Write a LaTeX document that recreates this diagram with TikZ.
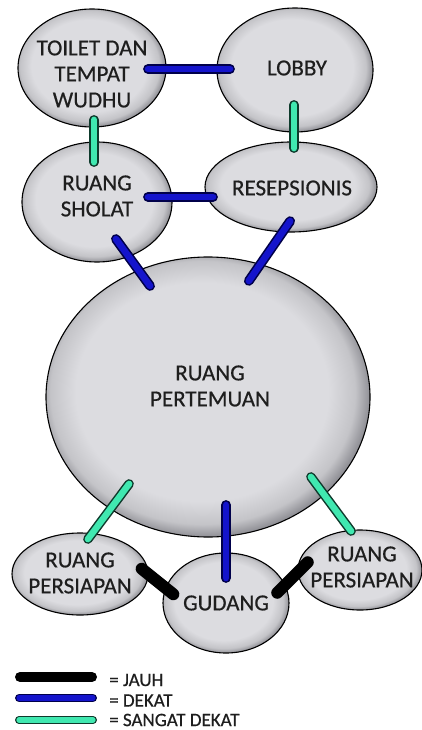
\documentclass[tikz,border=0pt]{standalone}
\usepackage{fontspec}
\setmainfont[FakeBold=0.5]{Carlito}
\newfontfamily\labelfont[FakeBold=0.5]{Carlito}
\usetikzlibrary{shapes.geometric}
\definecolor{nlight}{HTML}{DCDCE0}
\definecolor{nmid}{HTML}{C4C4C8}
\definecolor{ndark}{HTML}{8E8E94}
\definecolor{txt}{HTML}{1E1E1E}
\definecolor{bluefill}{HTML}{1414CC}
\definecolor{bluedark}{HTML}{00004A}
\definecolor{greenfill}{HTML}{40E8B0}
\definecolor{greendark}{HTML}{0E3A2C}
\pgfdeclareradialshading{bevel}{\pgfpoint{-1.5bp}{1.5bp}}{color(0bp)=(nlight); color(19.5bp)=(nlight); color(23.5bp)=(nmid); color(25.8bp)=(ndark); color(50bp)=(ndark)}
\tikzset{
  room/.style={ellipse, draw=black, line width=1.1pt, shading=bevel, inner sep=0pt},
  lbl/.style={font=\labelfont\fontsize{23}{26}\selectfont, text=txt, align=center, inner sep=0pt},
  legtext/.style={font=\labelfont\fontsize{19}{21}\selectfont, text=txt, anchor=west, inner sep=0pt},
  jauh/.style={draw=black, line width=12pt, line cap=round, shorten <=6pt, shorten >=6pt},
  dekat/.style={draw=bluedark, line width=1.6pt, double=bluefill, double distance=6.6pt, line cap=round, shorten <=5pt, shorten >=5pt},
  sdekat/.style={draw=greendark, line width=1.5pt, double=greenfill, double distance=6.4pt, line cap=round, shorten <=4.8pt, shorten >=4.8pt},
  legj/.style={draw=black, line width=10pt, line cap=round, shorten <=5pt, shorten >=5pt},
  legd/.style={draw=bluedark, line width=1.4pt, double=bluefill, double distance=5.6pt, line cap=round, shorten <=4.2pt, shorten >=4.2pt},
  legs/.style={draw=greendark, line width=1.4pt, double=greenfill, double distance=5.2pt, line cap=round, shorten <=4pt, shorten >=4pt},
}
\begin{document}
\begin{tikzpicture}[x=1pt,y=-1pt]
\useasboundingbox (0,0) rectangle (422,730);
\fill[white] (0,0) rectangle (422,730);

% rooms
\node[room, minimum width=148pt, minimum height=118pt] (toilet) at (92,68) {};
\node[room, minimum width=156pt, minimum height=124pt] (lobby) at (295,70) {};
\node[room, minimum width=150pt, minimum height=120pt] (sholat) at (97,202) {};
\node[room, minimum width=172pt, minimum height=90pt] (resep) at (291,187) {};
\node[room, minimum width=324pt, minimum height=280pt] (big) at (208,397) {};
\node[room, minimum width=136pt, minimum height=82pt] (leftp) at (80,574) {};
\node[room, minimum width=126pt, minimum height=100pt] (gudang) at (226,603) {};
\node[room, minimum width=124pt, minimum height=80pt] (rightp) at (360,570) {};

% labels
\node[lbl] (toilett) at (92,74) {TOILET DAN\\TEMPAT\\WUDHU};
\node[lbl] (lobbyt) at (297,68) {LOBBY};
\node[lbl] (sholatt) at (97,196) {RUANG\\SHOLAT};
\node[lbl] (resept) at (292,188) {RESEPSIONIS};
\node[lbl] (bigt) at (210,386) {RUANG\\PERTEMUAN};
\node[lbl] (leftpt) at (80,573) {RUANG\\PERSIAPAN};
\node[lbl] (gudangt) at (226,603) {GUDANG};
\node[lbl] (rightpt) at (362,567) {RUANG\\PERSIAPAN};

% connector end points
\coordinate (tl1) at (143,69);  \coordinate (tl2) at (235,69);
\coordinate (ts1) at (94,115);  \coordinate (ts2) at (94,167);
\coordinate (lr1) at (294,100); \coordinate (lr2) at (294,153);
\coordinate (sr1) at (143,197); \coordinate (sr2) at (218,197);
\coordinate (sb1) at (113,235); \coordinate (sb2) at (153,290);
\coordinate (rb1) at (293,217); \coordinate (rb2) at (246,285);
\coordinate (bl1) at (132,480); \coordinate (bl2) at (85,543);
\coordinate (bg1) at (226,500); \coordinate (bg2) at (226,583);
\coordinate (br1) at (308,473); \coordinate (br2) at (354,535);
\coordinate (lg1) at (137,565); \coordinate (lg2) at (178,598);
\coordinate (gr1) at (273,597); \coordinate (gr2) at (312,558);

% connectors
\draw[dekat] (tl1) -- (tl2);
\draw[sdekat] (ts1) -- (ts2);
\draw[sdekat] (lr1) -- (lr2);
\draw[dekat] (sr1) -- (sr2);
\draw[dekat] (sb1) -- (sb2);
\draw[dekat] (rb1) -- (rb2);
\draw[sdekat] (bl1) -- (bl2);
\draw[dekat] (bg1) -- (bg2);
\draw[sdekat] (br1) -- (br2);
\draw[jauh] (lg1) -- (lg2);
\draw[jauh] (gr1) -- (gr2);

% legend
\coordinate (lj1) at (15,677); \coordinate (lj2) at (97,677);
\coordinate (ld1) at (15,698); \coordinate (ld2) at (97,698);
\coordinate (ls1) at (15,720); \coordinate (ls2) at (97,720);
\draw[legj] (lj1) -- (lj2);
\draw[legd] (ld1) -- (ld2);
\draw[legs] (ls1) -- (ls2);
\node[legtext] (ljt) at (109,680) {= JAUH};
\node[legtext] (ldt) at (109,700.5) {= DEKAT};
\node[legtext] (lst) at (109,720) {= SANGAT DEKAT};
\end{tikzpicture}
\end{document}
